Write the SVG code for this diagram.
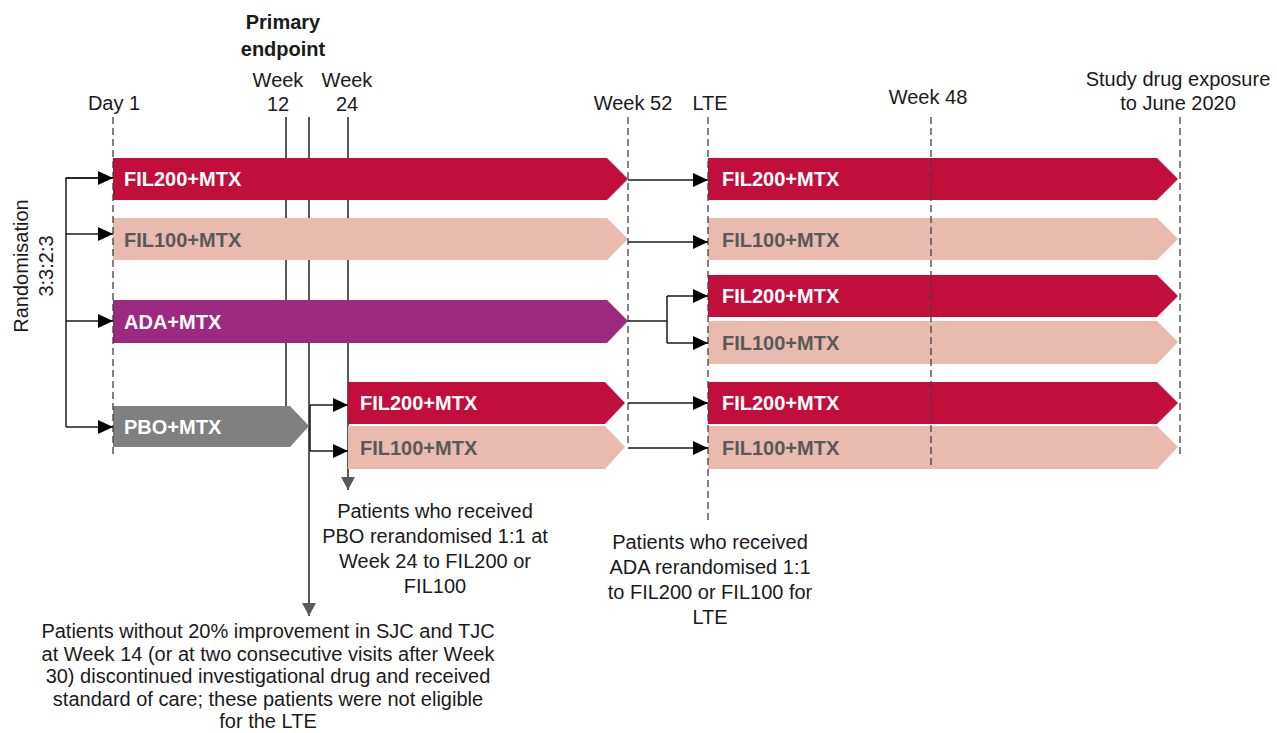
<svg xmlns="http://www.w3.org/2000/svg" width="1277" height="733" viewBox="0 0 1277 733">
<defs>
<style>
text{font-family:"Liberation Sans",Arial,sans-serif;font-size:20px;fill:#1a1a1a}
.c{text-anchor:middle}
.b{font-weight:bold}
.lw{font-weight:bold;fill:#fff}
.lg{font-weight:bold;fill:#595959}
.r{fill:#c20e3a}
.p{fill:#e8bbae}
.a{fill:#9c2a80}
.g{fill:#808080}
.tl{stroke:#595959;stroke-width:2;fill:none}
.dash{stroke:#404040;stroke-width:1.3;stroke-dasharray:7,4;fill:none}
.con{stroke:#1a1a1a;stroke-width:1.5;fill:none}
</style>
<marker id="ah" markerUnits="userSpaceOnUse" markerWidth="15" markerHeight="14" refX="15" refY="7" orient="auto"><path d="M0,0 L15,7 L0,14 z" fill="#000"/></marker>
<marker id="ahg" markerUnits="userSpaceOnUse" markerWidth="13" markerHeight="14" refX="13" refY="7" orient="auto"><path d="M0,0 L13,7 L0,14 z" fill="#595959"/></marker>
</defs>

<g id="timeline-solid">
<line class="tl" x1="286" y1="117" x2="286" y2="406"/>
<line class="tl" x1="309" y1="117" x2="309" y2="616" marker-end="url(#ahg)"/>
<line class="tl" x1="348" y1="117" x2="348" y2="490" marker-end="url(#ahg)"/>
</g>

<g id="headers">
<text class="c b" x="283" y="29">Primary</text>
<text class="c b" x="283" y="56">endpoint</text>
<text class="c" x="278" y="87">Week</text>
<text class="c" x="278" y="111">12</text>
<text class="c" x="347" y="87">Week</text>
<text class="c" x="347" y="111">24</text>
<text class="c" x="114" y="110">Day 1</text>
<text class="c" x="633" y="110">Week 52</text>
<text class="c" x="710" y="110">LTE</text>
<text class="c" x="928" y="104">Week 48</text>
<text class="c" x="1178" y="86">Study drug exposure</text>
<text class="c" x="1178" y="110">to June 2020</text>
</g>

<g id="randomisation">
<text class="c" transform="translate(28,266) rotate(-90)">Randomisation</text>
<text class="c" transform="translate(53,266) rotate(-90)">3:3:2:3</text>
</g>

<g id="fil200-left">
<polygon class="r" points="113,158 607,158 628,179 607,200 113,200"/>
<text class="lw" x="124" y="186">FIL200+MTX</text>
</g>
<g id="fil100-left">
<polygon class="p" points="113,218 607,218 628,239 607,260 113,260"/>
<text class="lg" x="124" y="247">FIL100+MTX</text>
</g>
<g id="ada">
<polygon class="a" points="113,300 607,300 628,321 607,343 113,343"/>
<text class="lw" x="124" y="329">ADA+MTX</text>
</g>
<g id="pbo">
<polygon class="g" points="113,406 290,406 309,426 290,447 113,447"/>
<text class="lw" x="124" y="434">PBO+MTX</text>
</g>
<g id="pbo-fil200">
<polygon class="r" points="348,382 605,382 625,403 605,424 348,424"/>
<text class="lw" x="360" y="410">FIL200+MTX</text>
</g>
<g id="pbo-fil100">
<polygon class="p" points="348,426 605,426 625,447 605,469 348,469"/>
<text class="lg" x="360" y="455">FIL100+MTX</text>
</g>

<g id="lte-row1">
<polygon class="r" points="708,158 1157,158 1178,179 1157,200 708,200"/>
<text class="lw" x="722" y="186">FIL200+MTX</text>
</g>
<g id="lte-row2">
<polygon class="p" points="708,218 1157,218 1178,239 1157,260 708,260"/>
<text class="lg" x="722" y="247">FIL100+MTX</text>
</g>
<g id="lte-row3">
<polygon class="r" points="708,275 1157,275 1178,296 1157,317 708,317"/>
<text class="lw" x="722" y="303">FIL200+MTX</text>
</g>
<g id="lte-row4">
<polygon class="p" points="708,321 1157,321 1178,342 1157,364 708,364"/>
<text class="lg" x="722" y="350">FIL100+MTX</text>
</g>
<g id="lte-row5">
<polygon class="r" points="708,382 1157,382 1178,403 1157,424 708,424"/>
<text class="lw" x="722" y="410">FIL200+MTX</text>
</g>
<g id="lte-row6">
<polygon class="p" points="708,426 1157,426 1178,447 1157,469 708,469"/>
<text class="lg" x="722" y="455">FIL100+MTX</text>
</g>

<g id="timeline-dashed">
<line class="dash" x1="113" y1="117" x2="113" y2="455"/>
<line class="dash" x1="628" y1="117" x2="628" y2="446"/>
<line class="dash" x1="708" y1="117" x2="708" y2="522"/>
<line class="dash" x1="931" y1="117" x2="931" y2="469"/>
<line class="dash" x1="1180" y1="117" x2="1180" y2="455"/>
</g>

<g id="connectors">
<path class="con" d="M113,178 H66 V427"/>
<line class="con" x1="66" y1="178" x2="113" y2="178" marker-end="url(#ah)"/>
<line class="con" x1="66" y1="234" x2="113" y2="234" marker-end="url(#ah)"/>
<line class="con" x1="66" y1="321" x2="113" y2="321" marker-end="url(#ah)"/>
<line class="con" x1="66" y1="427" x2="113" y2="427" marker-end="url(#ah)"/>
<path class="con" d="M310,405 V451"/>
<line class="con" x1="310" y1="405" x2="348" y2="405" marker-end="url(#ah)"/>
<line class="con" x1="310" y1="451" x2="348" y2="451" marker-end="url(#ah)"/>
<line class="con" x1="628" y1="180" x2="708" y2="180" marker-end="url(#ah)"/>
<line class="con" x1="628" y1="242" x2="708" y2="242" marker-end="url(#ah)"/>
<path class="con" d="M628,321 H667 M667,296 V343"/>
<line class="con" x1="667" y1="296" x2="708" y2="296" marker-end="url(#ah)"/>
<line class="con" x1="667" y1="343" x2="708" y2="343" marker-end="url(#ah)"/>
<line class="con" x1="628" y1="403" x2="708" y2="403" marker-end="url(#ah)"/>
<line class="con" x1="628" y1="448" x2="708" y2="448" marker-end="url(#ah)"/>
</g>

<g id="note-pbo">
<text class="c" x="435" y="518">Patients who received</text>
<text class="c" x="435" y="543">PBO rerandomised 1:1 at</text>
<text class="c" x="435" y="568">Week 24 to FIL200 or</text>
<text class="c" x="435" y="593">FIL100</text>
</g>
<g id="note-ada">
<text class="c" x="710" y="549">Patients who received</text>
<text class="c" x="710" y="574">ADA rerandomised 1:1</text>
<text class="c" x="710" y="599">to FIL200 or FIL100 for</text>
<text class="c" x="710" y="624">LTE</text>
</g>
<g id="note-nonresponders">
<text class="c" x="268" y="638">Patients without 20% improvement in SJC and TJC</text>
<text class="c" x="268" y="660.5">at Week 14 (or at two consecutive visits after Week</text>
<text class="c" x="268" y="683">30) discontinued investigational drug and received</text>
<text class="c" x="268" y="705.5">standard of care; these patients were not eligible</text>
<text class="c" x="268" y="728">for the LTE</text>
</g>
</svg>
